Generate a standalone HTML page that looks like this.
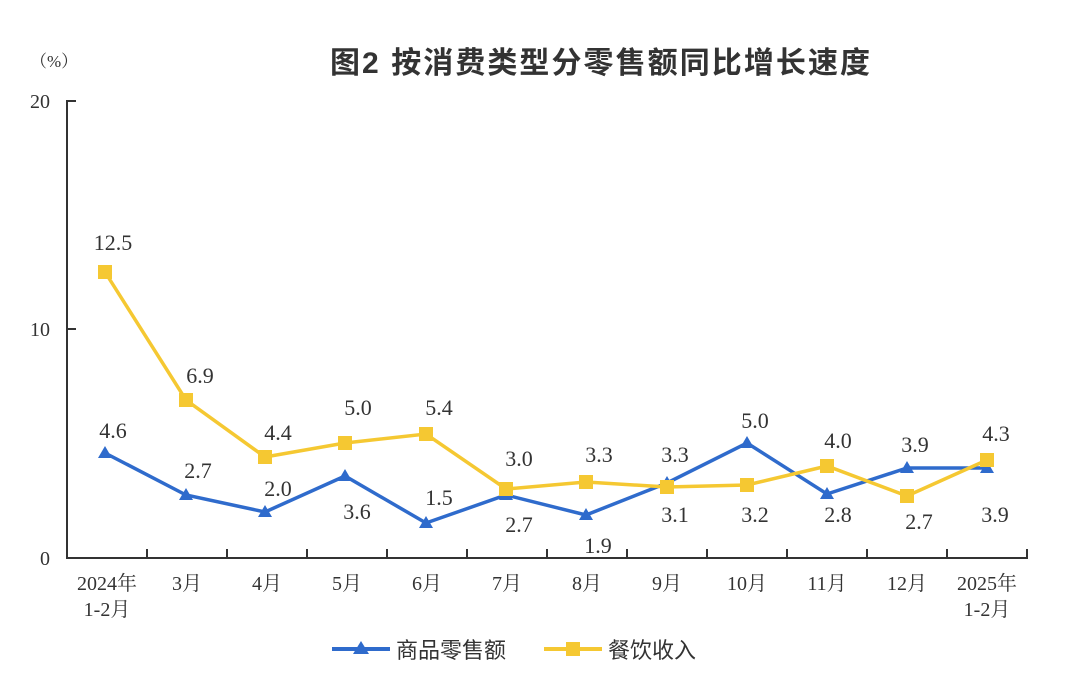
<!DOCTYPE html>
<html><head><meta charset="utf-8"><style>
body{margin:0;background:#fff}
text{font-family:"Liberation Serif","Noto Serif CJK SC",serif;fill:#333}
</style></head><body>
<svg width="1080" height="692" viewBox="0 0 1080 692" xmlns="http://www.w3.org/2000/svg">
<text x="330" y="73" font-size="30" font-weight="bold" textLength="540" style="font-family:'Liberation Sans','Noto Sans CJK SC',sans-serif" fill="#222">图2  按消费类型分零售额同比增长速度</text>
<text x="30" y="67" font-size="17" fill="#555">（%）</text>
<g font-size="20" text-anchor="end">
<text x="50" y="108">20</text><text x="50" y="336">10</text><text x="50" y="565">0</text>
</g>
<g stroke="#333" stroke-width="2" fill="none">
<path d="M76 101 H67 V558 H1028"/>
<path d="M67 329 H76"/>
<path d="M147 558V549M227 558V549M307 558V549M387 558V549M467 558V549M547 558V549M627 558V549M707 558V549M787 558V549M867 558V549M947 558V549M1027 558V549"/>
</g>
<g font-size="20" text-anchor="middle">
<text x="107" y="590">2024年</text><text x="107" y="616">1-2月</text>
<text x="187" y="590">3月</text><text x="267" y="590">4月</text><text x="347" y="590">5月</text><text x="427" y="590">6月</text><text x="507" y="590">7月</text><text x="587" y="590">8月</text><text x="667" y="590">9月</text><text x="747" y="590">10月</text><text x="827" y="590">11月</text><text x="907" y="590">12月</text>
<text x="987" y="590">2025年</text><text x="987" y="616">1-2月</text>
</g>
<polyline fill="none" stroke="#2f6bcc" stroke-width="3.5" points="105,453 186,495 265,512 345,476 426,523 506,495 586,515 667,483 747,443 827,494 907,468 987,468"/>
<g fill="#2f6bcc">
<path d="M105 446l7 12h-14z"/><path d="M186 488l7 12h-14z"/><path d="M265 505l7 12h-14z"/><path d="M345 469l7 12h-14z"/><path d="M426 516l7 12h-14z"/><path d="M506 488l7 12h-14z"/><path d="M586 508l7 12h-14z"/><path d="M667 476l7 12h-14z"/><path d="M747 436l7 12h-14z"/><path d="M827 487l7 12h-14z"/><path d="M907 461l7 12h-14z"/><path d="M987 461l7 12h-14z"/>
</g>
<polyline fill="none" stroke="#f5c832" stroke-width="3.5" points="105,272 186,400 265,457 345,443 426,434 506,489 586,482 667,487 747,485 827,466 907,496 987,460"/>
<g fill="#f5c832">
<rect x="98" y="265" width="14" height="14"/><rect x="179" y="393" width="14" height="14"/><rect x="258" y="450" width="14" height="14"/><rect x="338" y="436" width="14" height="14"/><rect x="419" y="427" width="14" height="14"/><rect x="499" y="482" width="14" height="14"/><rect x="579" y="475" width="14" height="14"/><rect x="660" y="480" width="14" height="14"/><rect x="740" y="478" width="14" height="14"/><rect x="820" y="459" width="14" height="14"/><rect x="900" y="489" width="14" height="14"/><rect x="980" y="453" width="14" height="14"/>
</g>
<g font-size="22" text-anchor="middle" fill="#222">
<text x="113" y="250">12.5</text><text x="200" y="383">6.9</text><text x="278" y="440">4.4</text><text x="358" y="415">5.0</text><text x="439" y="415">5.4</text><text x="519" y="466">3.0</text><text x="599" y="462">3.3</text><text x="675" y="462">3.3</text><text x="755" y="428">5.0</text><text x="838" y="448">4.0</text><text x="996" y="441">4.3</text>
<text x="113" y="438">4.6</text><text x="198" y="478">2.7</text><text x="278" y="496">2.0</text><text x="357" y="519">3.6</text><text x="439" y="505">1.5</text><text x="519" y="532">2.7</text><text x="598" y="553">1.9</text><text x="675" y="522">3.1</text><text x="755" y="522">3.2</text><text x="838" y="522">2.8</text><text x="915" y="452">3.9</text><text x="919" y="529">2.7</text><text x="995" y="522">3.9</text>
</g>
<path d="M332 649H390" stroke="#2f6bcc" stroke-width="4"/><path d="M361 641l8 13h-16z" fill="#2f6bcc"/>
<text x="396" y="658" font-size="22" style="font-family:'Liberation Sans','Noto Sans CJK SC',sans-serif">商品零售额</text>
<path d="M544 649H602" stroke="#f5c832" stroke-width="4"/><rect x="566" y="642" width="14" height="14" fill="#f5c832"/>
<text x="608" y="658" font-size="22" style="font-family:'Liberation Sans','Noto Sans CJK SC',sans-serif">餐饮收入</text>
</svg>
</body></html>
